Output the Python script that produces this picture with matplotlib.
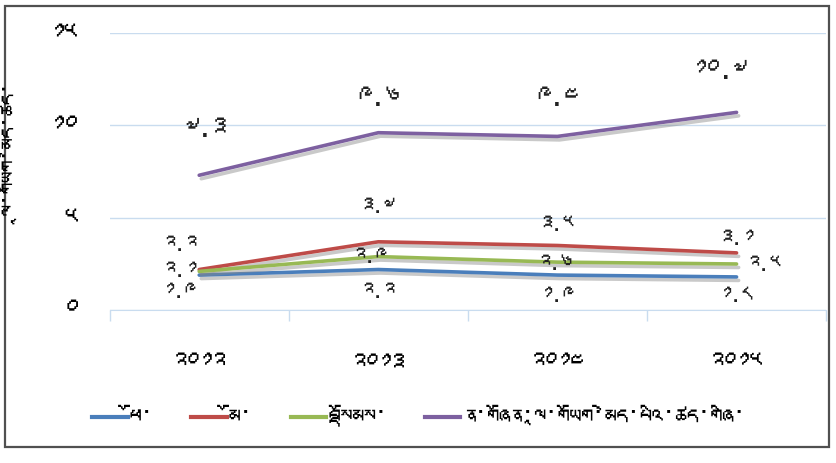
import matplotlib
matplotlib.use("Agg")
import matplotlib.pyplot as plt
import matplotlib.patheffects as pe
from matplotlib import font_manager
from matplotlib.ft2font import FT2Font
from matplotlib.patches import Rectangle
from matplotlib.lines import Line2D

# data
years = ["2012", "2013", "2014", "2015"]
male = [1.9, 2.2, 1.9, 1.8]
female = [2.2, 3.7, 3.5, 3.1]
total = [2.1, 2.9, 2.6, 2.5]
youth = [7.3, 9.6, 9.4, 10.7]
series_names = ["ཕོ་", "མོ་", "བསྡོམས་", "ན་གཞོན་ལཱ་གཡོག་མེད་པའི་ཚད་གཞི་"]
y_label = "ལཱ་གཡོག་མེད་ཚད་"
y_ticks = [0, 5, 10, 15]

# look for a font that has tibetan glyphs
tib = []
for f in font_manager.fontManager.ttflist:
    try:
        if 0x0F40 in FT2Font(f.fname).get_charmap() and f.name not in tib:
            tib.append(f.name)
    except Exception:
        pass
plt.rcParams["font.family"] = tib[:1] + ["DejaVu Sans"]

def tibnum(s):
    return str(s).translate(str.maketrans("0123456789", "༠༡༢༣༤༥༦༧༨༩"))

fig = plt.figure(figsize=(8.37, 4.63), dpi=100)
fig.patches.append(Rectangle((0.006, 0.035), 0.985, 0.953, transform=fig.transFigure,
                             fill=False, edgecolor="#505050", lw=1.6))
ax = fig.add_axes([0.131, 0.330, 0.856, 0.599])

x = [i + 0.5 for i in range(len(years))]
colors = ["#4a7ebb", "#be4b48", "#98b954", "#7d60a0"]
shadow = [pe.SimpleLineShadow(offset=(1.5, -2.5), shadow_color="#888888", alpha=0.45), pe.Normal()]
for vals, c in zip([male, female, total, youth], colors):
    ax.plot(x, vals, color=c, lw=2.6, solid_capstyle="round", path_effects=shadow, zorder=3)

# data labels (offsets in points)
offs = {
    0: [(-14, -12), (0, -16), (0, -15), (0, -14)],
    1: [(-14, 18), (0, 25), (0, 15), (0, 10)],
    2: [(-14, 0), (-6, 0), (-2, -1), (20, -1)],
    3: [(4, 33), (0, 25), (0, 28), (-12, 30)],
}
for k, vals in enumerate([male, female, total, youth]):
    fs = 20 if k == 3 else 16
    for i, v in enumerate(vals):
        ax.annotate(tibnum(v), (x[i], v), xytext=offs[k][i], textcoords="offset points",
                    ha="center", va="center", fontsize=fs, color="#222222", zorder=4)

ax.set_xlim(0, 4)
ax.set_ylim(0, 15)
ax.set_yticks(y_ticks)
ax.set_yticklabels([tibnum(t) for t in y_ticks], fontsize=20)
ax.tick_params(axis="y", length=0, pad=23)
ax.yaxis.grid(True, color="#c9dcef", lw=1)
ax.set_axisbelow(True)

ax.set_xticks(range(5))
ax.set_xticklabels([])
ax.tick_params(axis="x", which="major", length=8, color="#c9dcef", width=1)
ax.set_xticks(x, minor=True)
ax.set_xticklabels([tibnum(y) for y in years], minor=True, fontsize=19)
ax.tick_params(axis="x", which="minor", length=0, pad=31)

for s in ["top", "right", "left"]:
    ax.spines[s].set_visible(False)
ax.spines["bottom"].set_color("#c9dcef")

fig.text(0.024, 0.66, y_label, rotation=90, ha="center", va="center", fontsize=16)

handles = [Line2D([], [], color=c, lw=3) for c in colors]
fig.legend(handles, series_names, loc="center", bbox_to_anchor=(0.5, 0.098), ncol=4, frameon=False,
           handlelength=1.5, columnspacing=1.6, handletextpad=0.1, fontsize=17)

fig.savefig("out.png", dpi=100)
